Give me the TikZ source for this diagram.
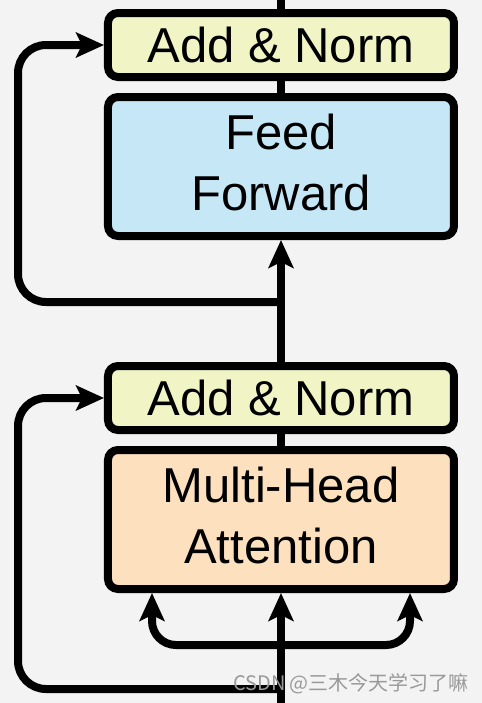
\documentclass[tikz,border=0pt]{standalone}
\usepackage{fontspec}
\setmainfont{Liberation Sans}
\newfontfamily\cjkfont{Noto Sans CJK SC}
\usepackage{tikz}
\usetikzlibrary{matrix}
\usetikzlibrary{arrows.meta}
\usepackage{xcolor}

\definecolor{bgcol}{HTML}{F3F3F3}
\definecolor{normcol}{HTML}{F1F4C5}
\definecolor{ffcol}{HTML}{C6E7F6}
\definecolor{attcol}{HTML}{FDE1BF}

\begin{document}
\begin{tikzpicture}[x=0.5pt,y=-0.5pt,
	box/.style={draw,line width=4pt,rounded corners=5pt,minimum width=173pt,inner sep=0pt,outer sep=2pt,align=center,font=\fontsize{24.5pt}{30.5pt}\selectfont},
	normbox/.style={box,fill=normcol,minimum height=32pt},
	ffbox/.style={box,fill=ffcol,minimum height=69.5pt,text depth=4pt},
	attbox/.style={box,fill=attcol,minimum height=69.5pt,text depth=4pt},
	wire/.style={line width=4pt},
	arr/.style={wire,-{Stealth[length=14pt,width=12.5pt,inset=3pt]}},
	wmtext/.style={text=black!40,font=\cjkfont\fontsize{10pt}{12pt}\selectfont}]
			\fill[bgcol] (0,0) rectangle (482,703);
			\useasboundingbox (0,0) rectangle (482,703);
			\matrix (m) [matrix anchor=north,row sep=6pt,inner sep=0pt,outer sep=0pt] at (281,9)
			{
				\node[normbox] (an2) {Add \& Norm}; \\
				\node[ffbox] (ff) {Feed\\Forward}; \\[55pt]
				\node[normbox] (an1) {Add \& Norm}; \\
				\node[attbox] (mha) {Multi-Head\\Attention}; \\
			};
			\coordinate (top) at (281,0);
			\coordinate (bot) at (281,703);
			\coordinate (rail) at (18,0);
			\coordinate (fork2) at (281,302);
			\coordinate (fork1) at (281,689);
			\coordinate (split) at (281,645);
			\coordinate (qk) at (152,0);
			\coordinate (vv) at (410,0);
			\draw[wire] (top) -- (an2.north);
			\draw[wire] (ff.north) -- (an2.south);
			\draw[arr] (an1.north) -- (ff.south);
			\draw[wire] (mha.north) -- (an1.south);
			\draw[arr] (bot) -- (mha.south);
			\draw[arr,rounded corners=14pt] (fork2) -| (an2.west -| rail) -- (an2.west);
			\draw[arr,rounded corners=14pt] (fork1) -| (an1.west -| rail) -- (an1.west);
			\draw[arr,rounded corners=12pt] (split) -| (mha.south -| qk);
			\draw[arr,rounded corners=12pt] (split) -| (mha.south -| vv);
			\node[wmtext] (wm) at (351,684) {CSDN @三木今天学习了嘛};
		\end{tikzpicture}
\end{document}
